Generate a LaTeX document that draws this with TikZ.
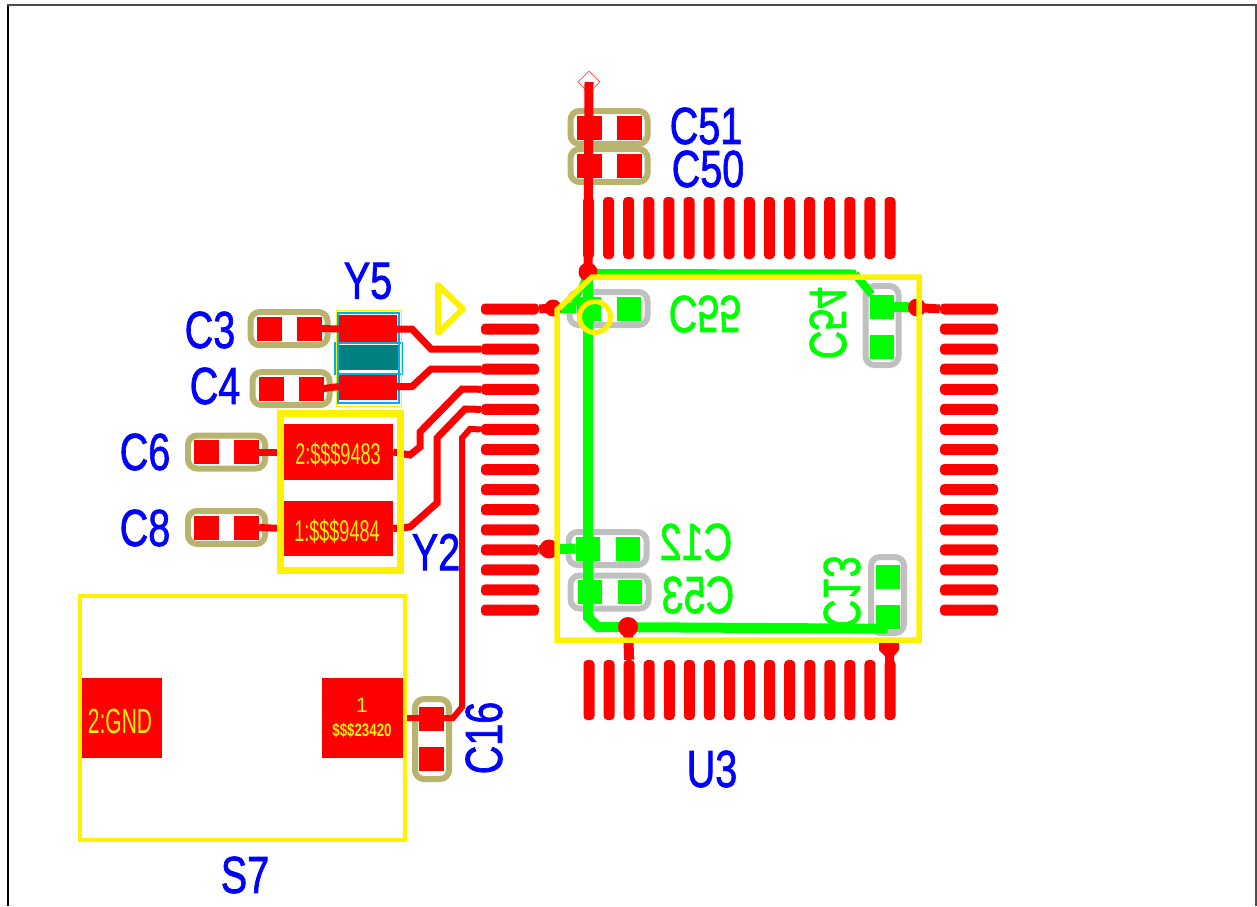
\documentclass[tikz,border=0pt]{standalone}
\usepackage{fontspec}
\usetikzlibrary{shapes.geometric}
\newfontfamily\pcbfont{Liberation Sans}
\newfontfamily\reffont[FakeBold=1.6]{Liberation Sans}
\definecolor{silk}{RGB}{184,180,110}
\definecolor{keepout}{RGB}{192,192,192}
\tikzset{
  pinpad/.style={shape=rectangle, fill=red, rounded corners=4pt, inner sep=0pt},
  redpad/.style={shape=rectangle, fill=red, inner sep=0pt, minimum width=25pt, minimum height=24pt},
  greenpad/.style={shape=rectangle, fill=green, inner sep=0pt, minimum width=24pt, minimum height=24pt},
  capsule/.style={shape=rectangle, draw=#1, line width=6pt, rounded corners=9pt, inner sep=0pt},
  via/.style={shape=circle, fill=red, inner sep=0pt, minimum size=#1},
  redtrace/.style={draw=red, line width=7pt},
  greentrace/.style={draw=green, line width=10pt},
  outline/.style={shape=rectangle, draw=yellow, inner sep=0pt},
  reflabel/.style={font=\reffont\fontsize{52}{52}\selectfont, inner sep=0pt, xscale=.76},
  padtext/.style={text=yellow, inner sep=0pt, font=\pcbfont\fontsize{#1}{#1}\selectfont}
}
\begin{document}
\begin{tikzpicture}[x=1pt,y=-1pt]
\useasboundingbox (0,0) rectangle (1257,906);
\draw[black, line width=2pt] (8,906) -- (8,5);
\draw[black!70, line width=1.5pt] (7,5) -- (1256,5) -- (1256,906);
\foreach \i in {0,...,15} {
  \node[pinpad, minimum width=58pt, minimum height=11pt] (L\i) at (510,{309+20.07*\i}) {};
  \node[pinpad, minimum width=58pt, minimum height=11pt] (R\i) at (969,{309+20.07*\i}) {};
  \node[pinpad, minimum width=11pt, minimum height=62pt] (T\i) at ({588.5+20.1*\i},228) {};
  \node[pinpad, minimum width=11pt, minimum height=60pt] (B\i) at ({589+20.07*\i},690) {};
}
\foreach \name/\x/\y in {c55/608.5/308.5, c12/607.5/548.5, c53/609.5/592} {
  \node[capsule=keepout, minimum width=78pt, minimum height=33pt] (\name) at (\x,\y) {};
  \node[greenpad] (\name a) at ({\x-20},\y) {};
  \node[greenpad] (\name b) at ({\x+20},\y) {};
}
\node[capsule=keepout, minimum width=33pt, minimum height=79pt] (c54) at (882,325.5) {};
\node[greenpad] (c54a) at (881.5,306.5) {};
\node[greenpad] (c54b) at (881.5,346.5) {};
\node[capsule=keepout, minimum width=33pt, minimum height=76pt] (c13) at (887.5,595) {};
\node[greenpad] (c13a) at (887.5,576.5) {};
\node[greenpad] (c13b) at (887.5,616.5) {};
\foreach \name/\x/\y in {c3/289/328.5, c4/291/388.5, c6/226.5/452, c8/226.5/527.5, c51/609/127.5, c50/609/165.5} {
  \node[capsule=silk, minimum width=77pt, minimum height=33pt] (\name) at (\x,\y) {};
  \node[redpad] (\name a) at ({\x-20},\y) {};
  \node[redpad] (\name b) at ({\x+20},\y) {};
}
\node[capsule=silk, minimum width=34pt, minimum height=80pt] (c16) at (432,739) {};
\node[redpad] (c16a) at (431.5,718.5) {};
\node[redpad] (c16b) at (431.5,758.5) {};
\node[redpad, minimum width=58pt, minimum height=28pt] (y5top) at (368,329) {};
\node[redpad, minimum width=58pt, minimum height=27pt] (y5bot) at (368,386.5) {};
\node[shape=rectangle, fill=teal, inner sep=0pt, minimum width=59pt, minimum height=25pt] (y5mid) at (368.5,357.5) {};
\node[shape=rectangle, draw=cyan, line width=1.5pt, inner sep=0pt, minimum width=61pt, minimum height=90pt] (y5body) at (368.5,358) {};
\node[shape=rectangle, draw=cyan, line width=1.5pt, inner sep=0pt, minimum width=67pt, minimum height=31pt] (y5band) at (368.5,358.5) {};
\node[outline, line width=1pt, minimum width=65pt, minimum height=96pt] (y5box) at (368.5,358) {};
\node[redpad, minimum width=109pt, minimum height=56pt] (y2top) at (338.5,452) {};
\node[redpad, minimum width=109pt, minimum height=55pt] (y2bot) at (338.5,528.5) {};
\node[redpad, minimum width=80pt, minimum height=80pt] (s7a) at (122,718) {};
\node[redpad, minimum width=81pt, minimum height=80pt] (s7b) at (362.5,718) {};
\node[shape=diamond, draw=red!70, line width=.7pt, inner sep=0pt, minimum size=22pt] (mark) at (589,82) {};
\coordinate (viatop) at (588,272);
\coordinate (viaL) at (553,308);
\coordinate (viaM) at (549,549);
\coordinate (viaR) at (917,307.5);
\coordinate (viaB) at (628,627);
\draw[greentrace] (viatop) -- (588,617) -- (598,627) -- (c13b.south);
\draw[greentrace, line width=6pt] (viatop) -- (856,272.5);
\draw[greentrace, line width=8pt] (855,274) -- (c54a);
\draw[greentrace] (c54a) -- (viaR);
\draw[greentrace] (viaL) -- (c55a);
\draw[greentrace, line width=6pt] (viatop) -- (572,308);
\draw[greentrace] (viaM) -- (c12a);
\draw[draw=red, line width=9pt] (mark.center) -- (viatop);
\draw[draw=red, line width=10pt] (viaB) -- (B2.north);
\draw[draw=red, line width=9pt] (L0.east) -- (viaL);
\draw[draw=red, line width=9pt] (L12.east) -- (viaM);
\draw[draw=red, line width=9pt] (viaR) -- (R0.west);
\node[via=19pt] (viatopdot) at (viatop) {};
\node[via=17pt] (viaLdot) at (viaL) {};
\node[via=19pt] (viaMdot) at (viaM) {};
\node[via=18pt] (viaRdot) at (viaR) {};
\node[via=20pt] (viaBdot) at (viaB) {};
\fill[red] (879,643) -- (899,643) -- (899,650) -- (894,656) -- (894,662) -- (885,662) -- (885,656) -- (879,650) -- cycle;
\draw[redtrace] (c3b.east) -- (y5top.west);
\draw[redtrace] (c4b.east) -- (y5bot.west);
\draw[redtrace] (y5top.east) -- (412,329) -- (431,349) -- (L2.west);
\draw[redtrace] (y5bot.east) -- (412,386.5) -- (431,369) -- (L3.west);
\draw[redtrace] (c6b.east) -- (y2top.west);
\draw[redtrace] (c8b.east) -- (y2bot.west);
\draw[redtrace] (y2top.east) -- (410,455) -- (420,447) -- (420,432) -- (462,389) -- (L4.west);
\draw[redtrace] (y2bot.east) -- (410,527) -- (437,503) -- (437,438) -- (465,409) -- (L5.west);
\draw[redtrace, line width=6pt] (L6.west) -- (470,429) -- (462,438) -- (462,707) -- (453,718) -- (s7b.east);
\node[outline, line width=7pt, minimum width=120pt, minimum height=157pt] (y2box) at (340,491.5) {};
\node[outline, line width=4pt, minimum width=325pt, minimum height=244pt] (s7box) at (242.5,718) {};
\draw[yellow, line width=5.5pt] (557,310) -- (592,277) -- (919,277) -- (919,640) -- (557,640) -- cycle;
\draw[yellow, line width=6pt, line join=round] (438,285) -- (463,309) -- (438,333) -- cycle;
\node[shape=circle, draw=yellow, line width=5pt, inner sep=0pt, minimum size=31pt] (pinone) at (595,317) {};
\node[padtext=30, xscale=.6] (y2toptext) at (338,454) {2:\$\$\$9483};
\node[padtext=30, xscale=.6] (y2bottext) at (337,531) {1:\$\$\$9484};
\node[padtext=35, xscale=.6] (s7atext) at (120,721) {2:GND};
\node[padtext=21] (s7btext) at (362,705) {1};
\node[padtext=18, xscale=.74, font=\pcbfont\bfseries\fontsize{18}{18}\selectfont] (s7ctext) at (362,730) {\$\$\$23420};
\node[reflabel, text=blue] (y5label) at (368,281) {Y5};
\node[reflabel, text=blue] (c3label) at (210,330) {C3};
\node[reflabel, text=blue] (c4label) at (215,386) {C4};
\node[reflabel, text=blue] (c6label) at (145,452) {C6};
\node[reflabel, text=blue] (c8label) at (145,528) {C8};
\node[reflabel, text=blue] (y2label) at (436,552) {Y2};
\node[reflabel, text=blue] (c51label) at (706,126) {C51};
\node[reflabel, text=blue] (c50label) at (708,169) {C50};
\node[reflabel, text=blue] (u3label) at (712,769) {U3};
\node[reflabel, text=blue] (s7label) at (245,875) {S7};
\node[rotate=90, reflabel, text=blue] (c16label) at (484,738) {C16};
\node[reflabel, text=green, yscale=-1] (c55label) at (705,314) {C55};
\node[reflabel, text=green, xscale=-1] (c12label) at (696,542) {C12};
\node[reflabel, text=green, xscale=-1] (c53label) at (698,595) {C53};
\node[rotate=90, reflabel, text=green, yscale=-1] (c54label) at (828,323) {C54};
\node[rotate=90, reflabel, text=green, yscale=-1] (c13label) at (842,592) {C13};
\end{tikzpicture}
\end{document}
